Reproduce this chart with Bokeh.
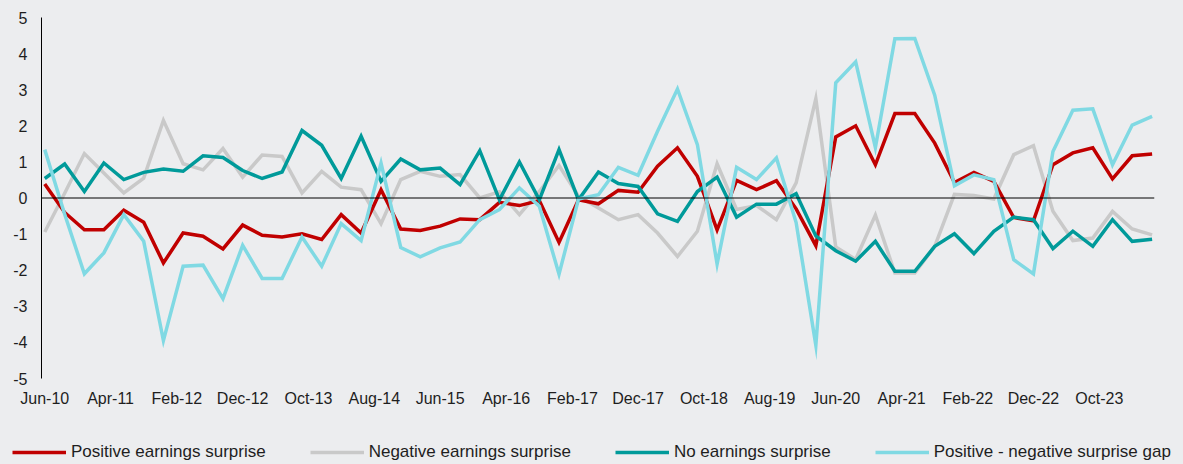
import pandas as pd
from bokeh.plotting import figure
from bokeh.layouts import column
from bokeh.models import Range1d, FixedTicker, Span, Legend, LegendItem
from bokeh.embed import file_html
from bokeh.resources import INLINE

# ---- data (quarterly, Jun-10 .. Jun-24) ----
dates = pd.date_range("2010-06-01", "2024-06-01", freq="3MS")

positive = [0.39, -0.40, -0.88, -0.88, -0.34, -0.67, -1.80, -0.97, -1.06, -1.41,
            -0.75, -1.03, -1.08, -0.99, -1.15, -0.46, -0.97, 0.23, -0.86, -0.90,
            -0.78, -0.58, -0.60, -0.12, -0.21, -0.07, -1.23, -0.05, -0.16, 0.21,
            0.16, 0.88, 1.39, 0.60, -0.88, 0.49, 0.23, 0.48, -0.30, -1.32,
            1.69, 2.00, 0.92, 2.34, 2.34, 1.52, 0.43, 0.71, 0.46, -0.54,
            -0.63, 0.92, 1.25, 1.39, 0.53, 1.17, 1.22]

negative = [-0.94, 0.13, 1.23, 0.69, 0.14, 0.55, 2.15, 0.95, 0.78, 1.37,
            0.58, 1.19, 1.15, 0.14, 0.74, 0.30, 0.23, -0.71, 0.51, 0.74,
            0.60, 0.65, 0.00, 0.17, -0.46, 0.18, 0.90, 0.05, -0.28, -0.60,
            -0.46, -0.97, -1.62, -0.92, 0.95, -0.32, -0.21, -0.60, 0.42, 2.75,
            -1.36, -1.70, -0.47, -2.08, -2.08, -1.34, 0.10, 0.07, -0.03, 1.20,
            1.45, -0.37, -1.18, -1.11, -0.37, -0.86, -1.02]

no_surprise = [0.54, 0.94, 0.18, 0.97, 0.51, 0.71, 0.80, 0.74, 1.17, 1.12,
               0.76, 0.54, 0.72, 1.87, 1.46, 0.54, 1.71, 0.46, 1.08, 0.78,
               0.83, 0.37, 1.31, -0.05, 1.00, -0.05, 1.34, -0.05, 0.72, 0.40,
               0.32, -0.44, -0.65, 0.18, 0.58, -0.53, -0.17, -0.17, 0.12, -1.05,
               -1.46, -1.75, -1.20, -2.03, -2.03, -1.34, -0.99, -1.54, -0.92, -0.53,
               -0.60, -1.40, -0.92, -1.34, -0.60, -1.20, -1.14]

gap = [1.34, -0.45, -2.10, -1.52, -0.46, -1.20, -3.95, -1.89, -1.86, -2.79,
       -1.31, -2.23, -2.23, -1.08, -1.89, -0.71, -1.18, 0.97, -1.37, -1.63,
       -1.38, -1.22, -0.60, -0.32, 0.28, -0.23, -2.11, -0.03, 0.09, 0.85,
       0.63, 1.85, 3.02, 1.48, -1.83, 0.85, 0.51, 1.11, -0.68, -4.08,
       3.19, 3.77, 1.40, 4.41, 4.42, 2.85, 0.34, 0.64, 0.51, -1.71,
       -2.10, 1.29, 2.43, 2.47, 0.92, 2.02, 2.26]

tick_dates = pd.date_range("2010-06-01", periods=17, freq="10MS")
tick_labels = ["Jun-10", "Apr-11", "Feb-12", "Dec-12", "Oct-13", "Aug-14",
               "Jun-15", "Apr-16", "Feb-17", "Dec-17", "Oct-18", "Aug-19",
               "Jun-20", "Apr-21", "Feb-22", "Dec-22", "Oct-23"]

y_ticks = [-5, -4, -3, -2, -1, 0, 1, 2, 3, 4, 5]
y_tick_labels = ["-5", "-4", "-3", "-2", "-1", "0", "1", "2", "3", "4", "5"]

series_names = ["Positive earnings surprise", "Negative earnings surprise",
                "No earnings surprise", "Positive - negative surprise gap"]
series_colors = ["#C00000", "#C9C9C9", "#009A9A", "#80D9E3"]

# ---- helpers ----
def ms(ts):
    return ts.value / 1e6

x = [ms(d) for d in dates]
tick_x = [ms(d) for d in tick_dates]

BG = "#ECEDEF"
FONT = "Liberation Sans"
TXT = "#1E1E1E"
W = 1183
LW = 3.5

p = figure(width=W, height=412,
           x_range=Range1d(ms(dates[0] - pd.Timedelta(days=15)),
                           ms(dates[-1] + pd.Timedelta(days=11))),
           y_range=Range1d(-5, 5),
           output_backend="svg", toolbar_location=None,
           min_border_left=41, min_border_right=29,
           min_border_top=17, min_border_bottom=34,
           background_fill_color=BG, border_fill_color=BG,
           outline_line_color=None)

p.grid.visible = False

# y axis
p.yaxis.ticker = FixedTicker(ticks=y_ticks)
p.yaxis.major_label_overrides = {t: lab for t, lab in zip(y_ticks, y_tick_labels)}
p.yaxis.axis_line_color = "#000000"
p.yaxis.axis_line_width = 1
p.yaxis.major_tick_line_color = None
p.yaxis.minor_tick_line_color = None
p.yaxis.major_label_standoff = 8
p.yaxis.major_label_text_font = FONT
p.yaxis.major_label_text_font_size = "16px"
p.yaxis.major_label_text_color = TXT

# x axis
p.xaxis.ticker = FixedTicker(ticks=tick_x)
p.xaxis.major_label_overrides = {t: lab for t, lab in zip(tick_x, tick_labels)}
p.xaxis.axis_line_color = None
p.xaxis.major_tick_line_color = None
p.xaxis.minor_tick_line_color = None
p.xaxis.major_label_standoff = 5
p.xaxis.major_label_text_font = FONT
p.xaxis.major_label_text_font_size = "16px"
p.xaxis.major_label_text_color = TXT

p.add_layout(Span(location=0, dimension="width", line_color="#000000", line_width=1))

all_series = [positive, negative, no_surprise, gap]
draw_order = [1, 0, 2, 3]
for k in draw_order:
    p.line(x, all_series[k], line_color=series_colors[k],
           line_width=LW, line_join="miter")

# ---- legend strip (separate figure below the chart) ----
lg = figure(width=W, height=50, x_range=Range1d(0, 1), y_range=Range1d(0, 1),
            output_backend="svg", toolbar_location=None,
            min_border_left=0, min_border_right=0, min_border_top=0, min_border_bottom=0,
            background_fill_color=BG, border_fill_color=BG, outline_line_color=None)
if "frame_align" in lg.properties():
    lg.frame_align = False
lg.axis.visible = False
lg.grid.visible = False
items = []
nan = float("nan")
for k in range(4):
    r = lg.line([nan, nan], [nan, nan], line_color=series_colors[k], line_width=LW)
    items.append(LegendItem(label=series_names[k], renderers=[r]))
legend = Legend(items=items, orientation="horizontal", location=(12, 0),
                glyph_width=54, glyph_height=20, label_standoff=5, spacing=44,
                padding=0, margin=0, border_line_color=None,
                background_fill_alpha=0,
                label_text_font=FONT, label_text_font_size="17px",
                label_text_color=TXT)
lg.add_layout(legend)

layout = column(p, lg, spacing=0, background=BG)

html = file_html(layout, INLINE)
html = html.replace("<head>", "<head><style>html,body{background:%s;}</style>" % BG, 1)
open("out.html", "w").write(html)
